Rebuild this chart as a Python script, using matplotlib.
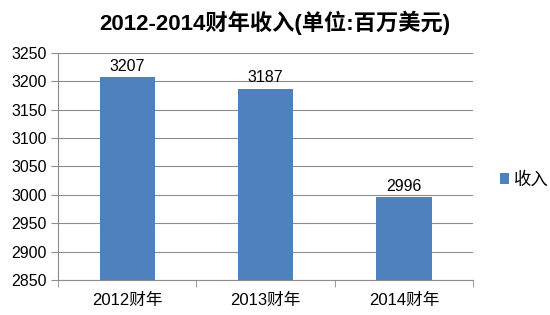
import matplotlib
matplotlib.use("Agg")
import matplotlib.pyplot as plt
import numpy as np

plt.rcParams['font.family'] = ['Liberation Sans', 'Noto Sans CJK SC', 'DejaVu Sans']

categories = ["2012财年", "2013财年", "2014财年"]
values = [3207, 3187, 2996]
series_name = "收入"
title = "2012-2014财年收入(单位:百万美元)"
yticks = [2850, 2900, 2950, 3000, 3050, 3100, 3150, 3200, 3250]

color = "#4F81BD"
fig = plt.figure(figsize=(5.5, 3.15), dpi=100)
ax = fig.add_axes([0.1055, 0.111, 0.755, 0.721])

x = np.arange(len(categories))
bars = ax.bar(x, values, width=0.4, color=color, label=series_name, zorder=3)
ax.set_xlim(-0.5, len(categories) - 0.5)
ax.set_ylim(2850, 3250)
ax.set_yticks(yticks)
ax.set_yticklabels([str(t) for t in yticks], fontsize=11.5)
ax.yaxis.grid(True, color="#8c8c8c", linewidth=0.8, zorder=0)
ax.set_xticks(x)
ax.set_xticklabels(categories, fontsize=12, family=['Liberation Sans', 'Noto Sans CJK SC'])
ax.set_xticks(np.arange(len(categories) + 1) - 0.5, minor=True)
ax.tick_params(axis='x', which='major', length=0, pad=9)
ax.tick_params(axis='x', which='minor', length=5, color="#8c8c8c")
ax.tick_params(axis='y', length=5, color="#8c8c8c", pad=3)
for s in ['top', 'right']:
    ax.spines[s].set_visible(False)
for s in ['left', 'bottom']:
    ax.spines[s].set_color("#8c8c8c")

for xi, v in zip(x, values):
    ax.text(xi, v + 6, str(v), ha='center', va='bottom', fontsize=11.5)

fig.text(0.5, 0.928, title, ha='center', va='center', fontsize=16, fontweight='bold',
         family=['Liberation Sans', 'Noto Sans CJK SC'])

leg = fig.legend(handles=[bars], labels=[series_name], loc='center left',
                 bbox_to_anchor=(0.88, 0.43), frameon=False,
                 handlelength=0.55, handleheight=0.55, handletextpad=0.3,
                 prop={'family': ['Noto Sans CJK SC'], 'size': 12.5})

fig.savefig("out.png", dpi=100)
